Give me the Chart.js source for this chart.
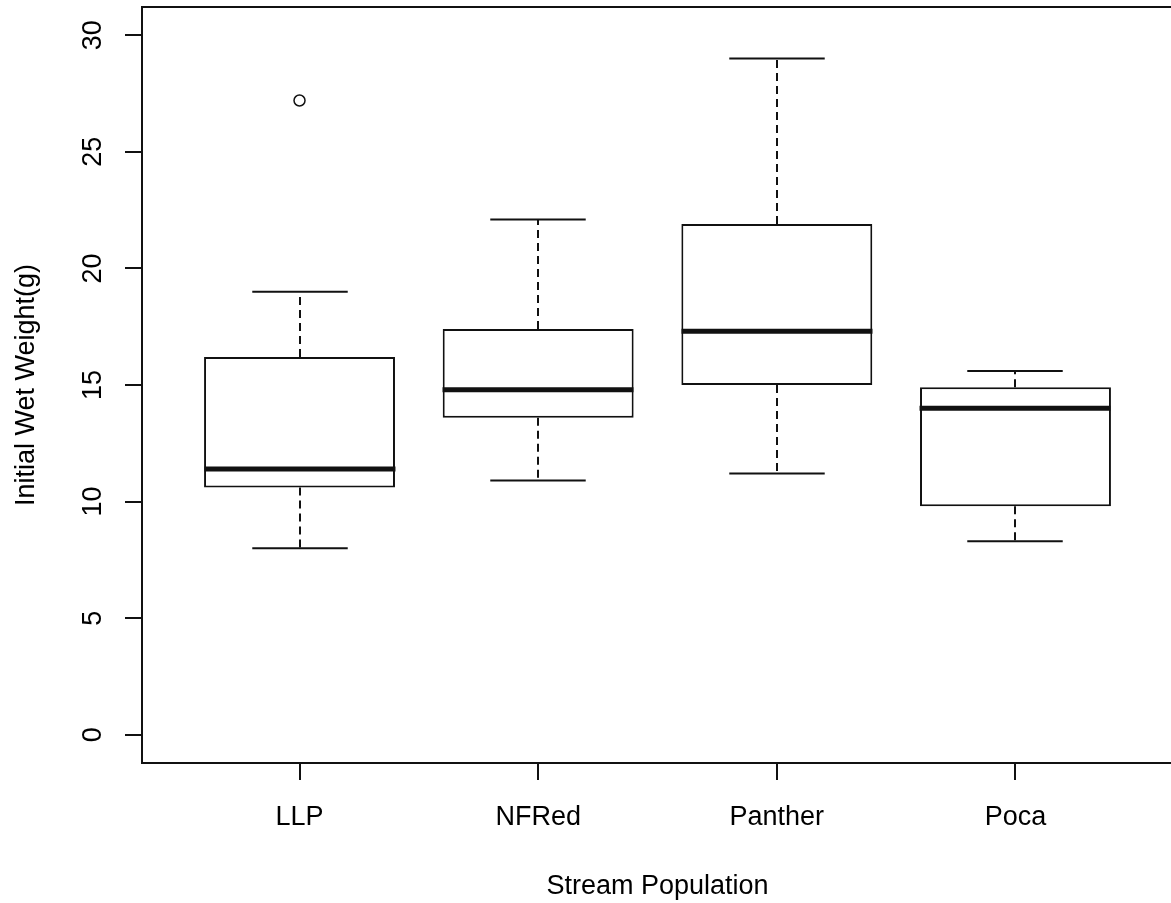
<!DOCTYPE html>
<html>
<head>
<meta charset="utf-8">
<script src="https://cdn.jsdelivr.net/npm/chart.js@4/dist/chart.umd.min.js"></script>
<style>
  html, body { margin: 0; padding: 0; overflow: hidden; background: #fff; }
  #wrap { position: absolute; left: 0; top: 0; width: 1180px; height: 903px; }
</style>
</head>
<body>
<div id="wrap"><canvas id="boxChart" width="1180" height="903"></canvas></div>
<script>
  // data
  const categories = ['LLP', 'NFRed', 'Panther', 'Poca'];
  const lowerWhisker = [8.0, 10.9, 11.2, 8.3];
  const q1 = [10.6, 13.6, 15.0, 9.8];
  const median = [11.4, 14.8, 17.3, 14.0];
  const q3 = [16.2, 17.4, 21.9, 14.9];
  const upperWhisker = [19.0, 22.1, 29.0, 15.6];
  const outliers = [[27.2], [], [], []];
  const yTicks = [0, 5, 10, 15, 20, 25, 30];

  const ink = '#111';
  const fontFamily = "'Liberation Sans', Arial, sans-serif";

  const boxData = categories.map((c, i) => ({ x: i + 1, y: [q1[i], q3[i]] }));
  const outlierData = [];
  outliers.forEach((list, i) => list.forEach(v => outlierData.push({ x: i + 1, y: v })));

  function line(ctx, x1, y1, x2, y2) {
    ctx.beginPath();
    ctx.moveTo(x1, y1);
    ctx.lineTo(x2, y2);
    ctx.stroke();
  }

  // whiskers, staples, medians and the frame round the plot
  const boxExtras = {
    id: 'boxExtras',
    afterDatasetsDraw(chart) {
      const { ctx, chartArea, scales: { x, y } } = chart;
      const bars = chart.getDatasetMeta(0).data;
      ctx.save();
      ctx.strokeStyle = ink;
      bars.forEach((bar, i) => {
        const cx = Math.round(x.getPixelForValue(i + 1));
        const half = bar.getProps(['width'], true).width / 2;
        const yLo = y.getPixelForValue(lowerWhisker[i]);
        const yHi = y.getPixelForValue(upperWhisker[i]);
        ctx.lineWidth = 2;
        ctx.setLineDash([8, 5]);
        line(ctx, cx, y.getPixelForValue(q3[i]), cx, yHi);
        line(ctx, cx, y.getPixelForValue(q1[i]), cx, yLo);
        ctx.setLineDash([]);
        line(ctx, cx - half / 2, yHi, cx + half / 2, yHi);
        line(ctx, cx - half / 2, yLo, cx + half / 2, yLo);
        ctx.lineWidth = 5;
        const ym = y.getPixelForValue(median[i]);
        line(ctx, cx - half, ym, cx + half, ym);
      });
      ctx.lineWidth = 2;
      ctx.strokeRect(chartArea.left, chartArea.top, chartArea.right - chartArea.left, chartArea.bottom - chartArea.top);
      ctx.restore();
    }
  };

  const ctx = document.getElementById('boxChart').getContext('2d');
  new Chart(ctx, {
    type: 'bar',
    data: {
      datasets: [{
        label: 'box',
        data: boxData,
        backgroundColor: '#fff',
        borderColor: ink,
        borderWidth: 2,
        borderSkipped: false,
        categoryPercentage: 1,
        barPercentage: 0.8
      }, {
        type: 'scatter',
        label: 'outliers',
        data: outlierData,
        pointStyle: 'circle',
        pointRadius: 5.5,
        pointBorderWidth: 1.5,
        pointBorderColor: ink,
        pointBackgroundColor: 'rgba(0,0,0,0)'
      }]
    },
    options: {
      responsive: false,
      animation: false,
      layout: { padding: { top: 7, right: 3, left: 0, bottom: 0 } },
      plugins: {
        legend: { display: false },
        tooltip: { enabled: false }
      },
      scales: {
        x: {
          type: 'linear',
          min: 0.34,
          max: 4.66,
          offset: false,
          afterBuildTicks: (scale) => { scale.ticks = categories.map((c, i) => ({ value: i + 1 })); },
          afterFit: (scale) => {
            scale.height = 140;
            scale.paddingLeft = 0;
            scale.paddingRight = 0;
          },
          border: { display: false },
          grid: { offset: false, drawOnChartArea: false, drawTicks: true, tickLength: 17, color: ink, lineWidth: 2 },
          ticks: {
            padding: 21,
            color: '#000',
            font: { family: fontFamily, size: 27 },
            maxRotation: 0,
            callback: (v) => categories[v - 1]
          },
          title: {
            display: true,
            text: 'Stream Population',
            color: '#000',
            font: { family: fontFamily, size: 27 },
            padding: { top: 0, bottom: 0 }
          }
        },
        y: {
          min: -1.21,
          max: 31.21,
          afterBuildTicks: (scale) => { scale.ticks = yTicks.map(v => ({ value: v })); },
          afterFit: (scale) => {
            scale.width = 142;
            scale.paddingTop = 0;
            scale.paddingBottom = 0;
          },
          border: { display: false },
          grid: { drawOnChartArea: false, drawTicks: true, tickLength: 17, color: ink, lineWidth: 2 },
          ticks: {
            padding: 16,
            crossAlign: 'center',
            minRotation: 90,
            maxRotation: 90,
            color: '#000',
            font: { family: fontFamily, size: 27 }
          },
          title: {
            display: true,
            text: 'Initial Wet Weight(g)',
            color: '#000',
            font: { family: fontFamily, size: 27 },
            padding: { top: 10, bottom: 0 }
          }
        }
      }
    },
    plugins: [boxExtras]
  });
</script>
</body>
</html>
